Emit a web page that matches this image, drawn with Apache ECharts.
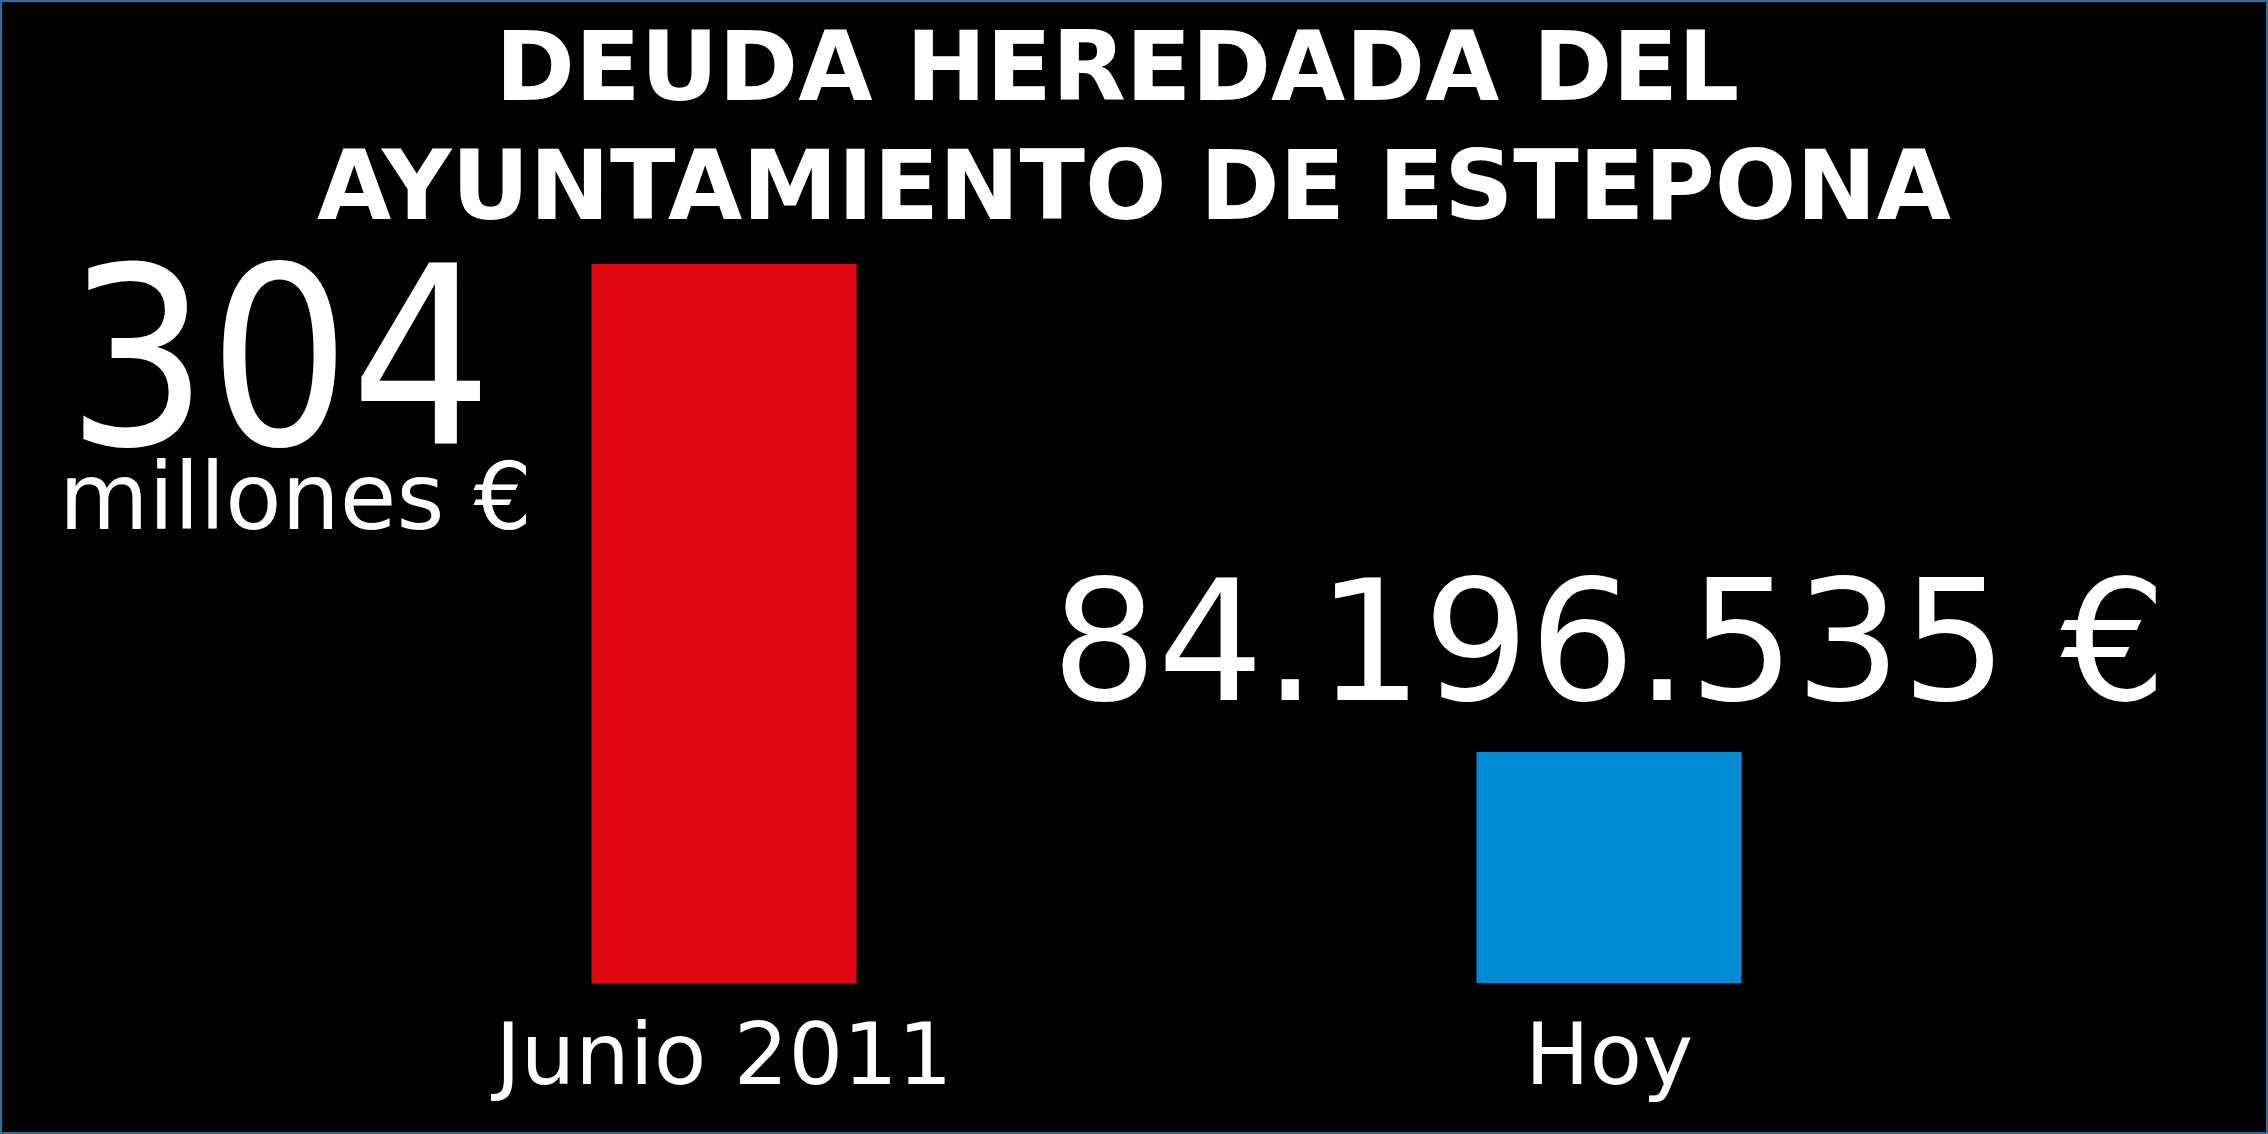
<!DOCTYPE html>
<html lang="es">
<head>
  <meta charset="UTF-8">
  <title>Deuda heredada</title>
  <script src="https://cdn.jsdelivr.net/npm/echarts@6/dist/echarts.min.js"></script>
  <style>
    html, body { margin: 0; padding: 0; background: #000; }
  </style>
</head>
<body>
  <div id="chart" style="width: 2268px; height: 1134px"></div>

  <script>
    const categories = ['Junio 2011', 'Hoy']
    // alturas de las barras tal como se ven en la imagen (millones)
    const values = [304, 97.7]
    const barColors = ['#e10712', '#008bd5']
    const titleLines = ['DEUDA HEREDADA DEL ', 'AYUNTAMIENTO DE ESTEPONA']

    const dom = document.getElementById('chart')
    const myChart = echarts.init(dom)

    const font = 'DejaVu Sans'

    const seriesData = [
      {
        value: values[0],
        itemStyle: { color: barColors[0] },
        label: {
          show: true,
          position: [-296, 37],
          align: 'center',
          verticalAlign: 'top',
          formatter: '{a|304}\n{b|millones €}',
          rich: {
            a: {
              fontSize: 248,
              lineHeight: 158,
              padding: [0, 32, 0, 0],
              color: '#fff',
              fontFamily: '"DejaVu Sans Condensed", "DejaVu Sans"'
            },
            b: { fontSize: 92, lineHeight: 93, color: '#fff', fontFamily: font }
          }
        }
      },
      {
        value: values[1],
        itemStyle: { color: barColors[1] },
        label: {
          show: true,
          position: 'top',
          distance: 12,
          formatter: '84.196.535 €',
          fontSize: 167,
          lineHeight: 167,
          color: '#fff',
          fontFamily: font
        }
      }
    ]

    const option = {
      backgroundColor: '#000',
      animation: false,
      title: {
        text: titleLines.join('\n'),
        left: 'center',
        top: 16,
        padding: 0,
        textStyle: {
          color: '#fff',
          fontFamily: font,
          fontWeight: 'bold',
          fontSize: 96,
          lineHeight: 119
        }
      },
      grid: {
        left: 281.5,
        right: 216.5,
        top: 264,
        bottom: 151,
        containLabel: false
      },
      xAxis: {
        type: 'category',
        data: categories,
        axisLine: { show: false },
        axisTick: { show: false },
        axisLabel: {
          color: '#fff',
          fontFamily: font,
          fontSize: 86,
          lineHeight: 86,
          margin: 36
        }
      },
      yAxis: {
        type: 'value',
        min: 0,
        max: 304,
        show: false,
        splitLine: { show: false }
      },
      graphic: [
        {
          type: 'rect',
          shape: { x: 1, y: 1, width: 2266, height: 1132 },
          style: { fill: null, stroke: '#2a6f9f', lineWidth: 2 },
          silent: true,
          z: 100
        }
      ],
      series: [
        {
          type: 'bar',
          barWidth: 265,
          data: seriesData
        }
      ]
    }

    myChart.setOption(option)
  </script>
</body>
</html>
